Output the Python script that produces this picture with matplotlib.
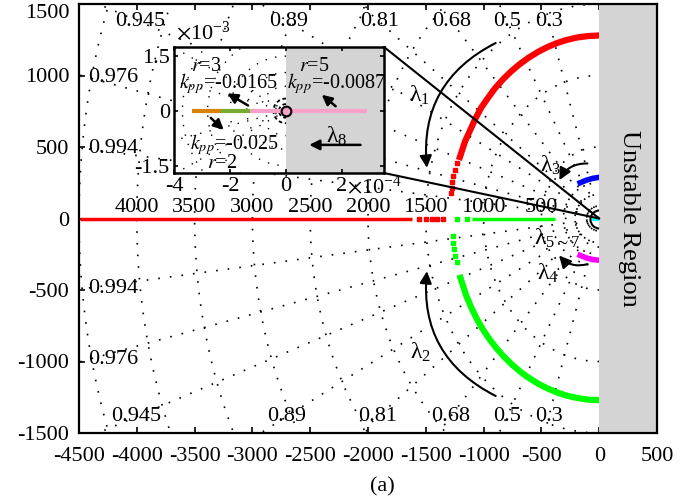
import numpy as np
import matplotlib
matplotlib.use("Agg")
import matplotlib.pyplot as plt
from matplotlib.patches import FancyArrowPatch, ConnectionPatch

plt.rcParams['font.family'] = ['Liberation Serif', 'DejaVu Serif']
plt.rcParams['mathtext.fontset'] = 'stix'
plt.rcParams['axes.unicode_minus'] = False

# ---- data ----
zeta_top = [0.945, 0.89, 0.81, 0.68, 0.5, 0.3]
zeta_side = [0.976, 0.994]
zeta_all = [0.3, 0.5, 0.68, 0.81, 0.89, 0.945, 0.976, 0.994]
wn_list = [500, 1000, 1500, 2000, 2500, 3000, 3500, 4000, 4500]
wn_labels = [500, 1000, 1500, 2000, 2500, 3000, 3500, 4000]
wn_small = [200, 290]

red_line_x = [-4490, -1620]
red_line_pts = [-1560, -1500, -1450, -1400, -1350]
green_line_x = [-1100, -380]
green_line_pts = [-1230, -1145]

red_sparse_x = [-1280, -1277, -1270, -1262, -1245, -1230]
red_sparse_y = [175, 215, 255, 295, 340, 385]
red_arc_x = [-1205, -1160, -1115, -1070, -1020, -960, -900, -830, -760, -690,
             -610, -525, -445, -365, -280, -190, -95, 0]
red_arc_y = [430, 540, 620, 700, 776, 846, 912, 975, 1030, 1078,
             1125, 1167, 1200, 1227, 1249, 1266, 1276, 1280]

green_sparse_x = [-1268, -1262, -1255, -1245, -1232]
green_sparse_y = [-120, -170, -215, -260, -305]
green_arc_x = [-1200, -1150, -1105, -1060, -1008, -950, -888, -820, -752, -680,
               -602, -520, -440, -360, -275, -185, -93, 0]
green_arc_y = [-415, -540, -626, -700, -773, -843, -908, -970, -1023, -1073,
               -1118, -1159, -1191, -1218, -1240, -1256, -1267, -1270]

blue_x = [-165, -110, -55, 0]
blue_y = [250, 268, 281, 288]
mag_x = [-165, -110, -55, 0]
mag_y = [-258, -276, -287, -292]
cyan_x = [-45, 0]
cyan_y = [0, 0]

# inset (x in 1e-4, y in 1e-3)
orange_x = [-3.35, -2.33]
lgreen_x = [-2.33, -1.27]
pink_x = [-1.27, 2.91]

dots = (0, (1, 6))
FS = 16

fig = plt.figure(figsize=(6.82, 5.03), dpi=100)
ax = fig.add_axes([79/682, 70/503, 578/682, 429/503])

ax.set_xlim(-4500, 500)
ax.set_ylim(-1500, 1500)
ax.axvspan(0, 500, color='#d4d4d4', zorder=3, lw=0)

# s-plane grid
for z in zeta_all:
    t = np.sqrt(1 - z**2) / z
    for s in (1, -1):
        ax.plot([0, -4500], [0, s * 4500 * t], color='k', lw=1.2, ls=dots, zorder=1)
th = np.linspace(-np.pi/2, np.pi/2, 300)
for w in wn_list + wn_small:
    ax.plot(-w * np.cos(th), w * np.sin(th), color='k', lw=1.2, ls=dots, zorder=1)

for z in zeta_top:
    t = np.sqrt(1 - z**2) / z
    for yy in (1375, -1385):
        ax.text(-abs(yy) / t, yy, str(z), ha='center', va='center', fontsize=FS, zorder=4)
for z in zeta_side:
    t = np.sqrt(1 - z**2) / z
    for s in (1, -1):
        ax.text(-4420, s * 4420 * t, str(z), ha='left', va='center', fontsize=FS, zorder=4)
for w in wn_labels:
    ax.text(-w, 80, str(w), ha='center', va='center', fontsize=FS, zorder=4)

# loci
ax.plot(red_line_x, [0, 0], color='#ff0000', lw=2.5, solid_capstyle='butt', zorder=2)
ax.plot(red_line_pts, [0] * len(red_line_pts), 's', color='#ff0000', ms=3, zorder=2)
ax.plot(green_line_x, [0, 0], color='#00ff00', lw=2.5, solid_capstyle='butt', zorder=2)
ax.plot(green_line_pts, [0] * len(green_line_pts), 's', color='#00ff00', ms=3, zorder=2)
ax.plot(red_sparse_x, red_sparse_y, 's', color='#ff0000', ms=3, zorder=2)
ax.plot(red_arc_x, red_arc_y, color='#ff0000', lw=4.5, zorder=2)
ax.plot(green_sparse_x, green_sparse_y, 's', color='#00ff00', ms=3, zorder=2)
ax.plot(green_arc_x, green_arc_y, color='#00ff00', lw=4.5, zorder=2)
ax.plot(blue_x, blue_y, color='#0000ff', lw=4, zorder=2)
ax.plot(mag_x, mag_y, color='#ff00ff', lw=4, zorder=2)
ax.plot(cyan_x, cyan_y, color='#00ffff', lw=3, zorder=2)
ax.plot(0, 0, 'o', ms=13, mfc='none', mec='k', mew=1.5, zorder=2)

# arrows and labels
arr = dict(arrowstyle='-|>', mutation_scale=18, color='k', lw=1.5, zorder=5)
ax.add_patch(FancyArrowPatch((-874, 1236), (-1488, 335), connectionstyle='arc3,rad=0.35', **arr))
ax.add_patch(FancyArrowPatch((-874, -1250), (-1488, -349), connectionstyle='arc3,rad=-0.35', **arr))
ax.add_patch(FancyArrowPatch((-78, 384), (-355, 251), connectionstyle='arc3,rad=0.35', **arr))
ax.add_patch(FancyArrowPatch((-78, -314), (-363, -244), connectionstyle='arc3,rad=-0.35', **arr))
ax.text(-1557, 859, r'$\mathregular{λ_1}$', ha='center', va='center', fontsize=17, zorder=5)
ax.text(-1548, -936, r'$\mathregular{λ_2}$', ha='center', va='center', fontsize=17, zorder=5)
ax.text(-424, 370, r'$\mathregular{λ_3}$', ha='center', va='center', fontsize=17, zorder=5)
ax.text(-363, -140, r'$\mathregular{λ_{5\sim7}}$', ha='center', va='center', fontsize=17, zorder=5)
ax.text(-441, -384, r'$\mathregular{λ_4}$', ha='center', va='center', fontsize=17, zorder=5)
ax.text(255, 0, 'Unstable Region', rotation=-90, ha='center', va='center', fontsize=19, zorder=5)

ax.set_xticks(range(-4500, 501, 500))
ax.set_yticks(range(-1500, 1501, 500))
ax.tick_params(direction='in', length=4, width=1.2, labelsize=FS, top=True, right=True)
ax.tick_params(axis='x', pad=10)
ax.tick_params(axis='y', pad=7)
ax.get_yticklabels()[-1].set_va('top')
for sp in ax.spines.values():
    sp.set_linewidth(1.6)
    sp.set_zorder(6)

fig.text(382/682, 1 - 487/503, '(a)', ha='center', va='center', fontsize=FS)

# inset
ins = fig.add_axes([174/682, 1 - 173/503, 210/682, 126/503])
ins.set_xlim(-4, 3.5)
ins.set_ylim(-1.7, 1.75)
ins.axvspan(0, 3.5, color='#d4d4d4', lw=0, zorder=0)
th2 = np.linspace(np.pi/2, 3*np.pi/2, 200)
for r in [0.9, 1.4, 2.0, 2.8, 3.7]:
    ins.plot(r * np.cos(th2), 0.75 * r * np.sin(th2), color='k', lw=1.0, ls=dots, zorder=1)
for ang in [150, 165, 195, 210]:
    a = np.deg2rad(ang)
    ins.plot([0, 5 * np.cos(a)], [0, 0.75 * 5 * np.sin(a)], color='k', lw=1.0, ls=dots, zorder=1)
for r in [0.25, 0.45]:
    ins.plot(r * np.cos(th2), 0.75 * r * np.sin(th2), color='k', lw=1.3, ls=(0, (2, 1.5)), zorder=2)
ins.plot(orange_x, [0, 0], color='#d9820b', lw=3, solid_capstyle='butt', zorder=3)
ins.plot(lgreen_x, [0, 0], color='#77ac30', lw=3, solid_capstyle='butt', zorder=3)
ins.plot(pink_x, [0, 0], color='#f7a1c8', lw=3, solid_capstyle='butt', zorder=3)
ins.plot(0, 0, 'o', ms=7, mfc='#f7a1c8', mec='k', mew=1.5, zorder=4)

iarr = dict(arrowstyle='-|>', mutation_scale=15, color='k', lw=1.8, zorder=5)
ins.add_patch(FancyArrowPatch((-1.27, 0.11), (-2.18, 0.52), **iarr))
ins.add_patch(FancyArrowPatch((-2.76, -0.14), (-2.15, -0.57), **iarr))
ins.add_patch(FancyArrowPatch((1.85, 0.08), (1.2, 0.49), **iarr))
ins.add_patch(FancyArrowPatch((2.76, -0.93), (0.73, -0.93), **iarr))

IFS = 14.5
ins.text(-2.85, 1.22, r'$r$=3', ha='center', va='center', fontsize=IFS)
ins.text(-2.05, 0.74, r'$k_{pp}$=-0.0165', ha='center', va='center', fontsize=IFS)
ins.text(1.0, 1.22, r'$r$=5', ha='center', va='center', fontsize=IFS)
ins.text(1.8, 0.74, r'$k_{pp}$=-0.0087', ha='center', va='center', fontsize=IFS)
ins.text(-1.85, -0.93, r'$k_{pp}$=-0.025', ha='center', va='center', fontsize=IFS)
ins.text(-2.3, -1.45, r'$r$=2', ha='center', va='center', fontsize=IFS)
ins.text(1.8, -0.7, r'$\mathregular{λ_8}$', ha='center', va='center', fontsize=17)

ins.set_xticks([-4, -2, 0, 2])
ins.set_yticks([-1.5, 0, 1.5])
ins.set_xticklabels(['-4', '-2', '0', '2'])
ins.set_yticklabels(['-1.5', '0', '1.5'])
ins.tick_params(direction='in', length=3, width=1.2, labelsize=FS, top=True, right=True, pad=3)
for sp in ins.spines.values():
    sp.set_linewidth(1.8)
fig.text(176/682, 1 - 33/503, r'$\times\mathregular{10^{-3}}$', ha='left', va='center', fontsize=FS)
fig.text(347/682, 1 - 187/503, r'$\times\mathregular{10^{-4}}$', ha='left', va='center', fontsize=FS)

for xy in [(1, 1), (1, 0)]:
    fig.add_artist(ConnectionPatch(xyA=xy, coordsA=ins.transAxes, xyB=(0, 0), coordsB=ax.transData,
                                   color='k', lw=1.5))

fig.savefig('out.png', dpi=100)
